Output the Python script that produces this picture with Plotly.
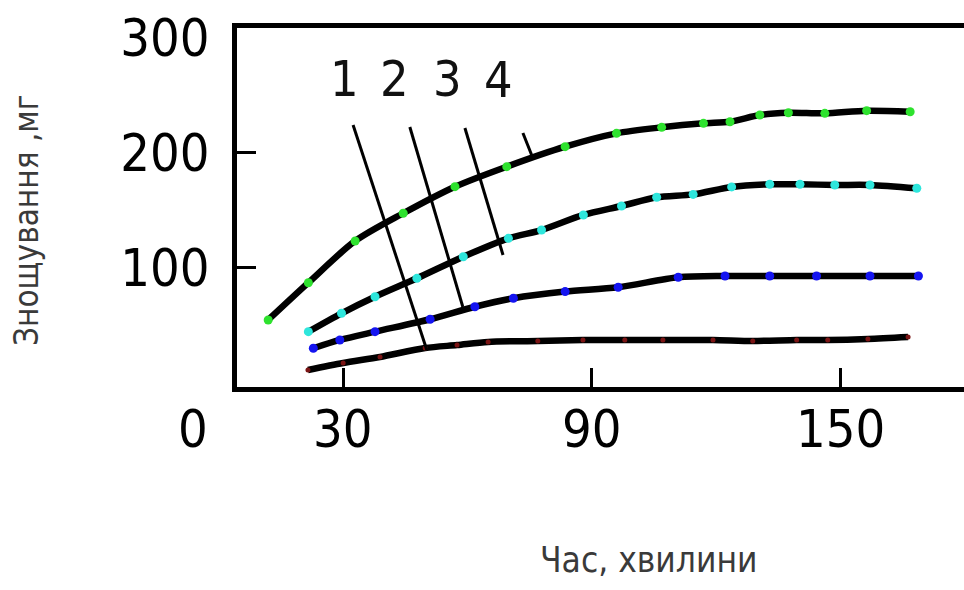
import plotly.graph_objects as go

# ---- data ----
t_green = [11.9, 21.6, 32.9, 44.5, 57.0, 69.5, 83.6, 96.0, 106.9, 117.0, 123.4, 130.6, 137.5, 146.3, 156.4, 166.9]
w_green = [54.8, 87.2, 123.5, 147.6, 170.7, 188.1, 205.5, 217.1, 222.3, 225.8, 227.2, 233.0, 235.0, 234.5, 236.8, 235.9]

t_cyan = [21.6, 29.6, 37.7, 47.8, 59.0, 69.9, 77.9, 88.0, 97.2, 105.7, 114.5, 123.8, 133.0, 140.3, 148.7, 157.2, 168.5]
w_cyan = [44.6, 60.6, 75.0, 91.0, 109.8, 125.8, 133.0, 146.1, 153.9, 161.5, 164.0, 170.5, 172.8, 172.8, 172.2, 172.2, 169.3]

t_blue = [22.8, 29.2, 37.7, 51.0, 61.8, 71.1, 83.6, 96.4, 110.9, 122.2, 133.0, 144.3, 157.2, 168.9]
w_blue = [30.2, 37.4, 44.6, 55.4, 66.3, 73.7, 79.5, 83.2, 91.9, 93.0, 93.0, 93.0, 93.0, 93.0]

t_red = [21.5, 30.0, 38.9, 49.8, 57.5, 65.0, 77.0, 87.9, 98.0, 107.2, 119.3, 128.9, 139.5, 147.0, 156.7, 166.4]
w_red = [11.3, 17.4, 22.6, 30.4, 33.0, 35.7, 36.5, 37.4, 37.4, 37.4, 37.4, 36.5, 37.4, 37.4, 38.3, 40.0]

x_ticks = [30, 90, 150]
x_ticktext = ["30", "90", "150"]
y_ticks = [100, 200, 300]
y_ticktext = ["100", "200", "300"]
y_tickmarks = [100, 200]

curve_labels = ["1", "2", "3", "4"]
label_x = [30.4, 42.5, 55.1, 67.6]
label_y = [264.0, 264.0, 264.0, 263.5]
leader_x0 = [32.4, 46.1, 59.4, 73.4]
leader_y0 = [224.3, 222.6, 221.7, 217.4]
leader_x1 = [50.2, 58.9, 68.6, 75.8]
leader_y1 = [28.7, 66.1, 111.3, 195.7]

x_title = "Час, хвилини"
y_title = "Знощування ,мг"
origin_label = "0"

FONT = "DejaVu Sans Condensed, Liberation Sans Narrow, Roboto Condensed, Roboto, sans-serif"
TICK_SIZE = 52

fig = go.Figure()

series = [
    (t_red, w_red, "#7a1414", 5),
    (t_blue, w_blue, "#1414f0", 9),
    (t_cyan, w_cyan, "#2ee6dc", 9),
    (t_green, w_green, "#2ee22e", 9),
]
for xs, ys, col, ms in series:
    fig.add_trace(go.Scatter(
        x=xs, y=ys, mode="lines+markers",
        line=dict(color="black", width=6.5, shape="spline", smoothing=0.8),
        marker=dict(color=col, size=ms, line=dict(width=0)),
        showlegend=False, hoverinfo="skip",
    ))

for i in range(len(curve_labels)):
    fig.add_shape(type="line", xref="x", yref="y",
                  x0=leader_x0[i], y0=leader_y0[i], x1=leader_x1[i], y1=leader_y1[i],
                  line=dict(color="black", width=3))
    fig.add_annotation(x=label_x[i], y=label_y[i], xref="x", yref="y",
                       text=curve_labels[i], showarrow=False,
                       xanchor="center", yanchor="middle",
                       font=dict(family=FONT, size=50, color="#111"))

# x tick labels placed under their tick positions
for v, txt in zip(x_ticks, x_ticktext):
    fig.add_annotation(x=v, y=0, xref="x", yref="paper", text=txt, showarrow=False,
                       xanchor="center", yanchor="middle", yshift=-42,
                       font=dict(family=FONT, size=TICK_SIZE, color="black"))

fig.add_annotation(x=(193 - 237) / 727, y=0, xref="paper", yref="paper",
                   text=origin_label, showarrow=False, xanchor="center", yanchor="middle",
                   yshift=-42, font=dict(family=FONT, size=TICK_SIZE, color="black"))
fig.add_annotation(x=(648 - 237) / 727, y=(387 - 560) / 359, xref="paper", yref="paper",
                   text=x_title, showarrow=False, xanchor="center", yanchor="middle",
                   font=dict(family=FONT, size=35, color="#3a3a3a"))
fig.add_annotation(x=(27 - 237) / 727, y=(387 - 220) / 359, xref="paper", yref="paper",
                   text=y_title, showarrow=False, textangle=-90,
                   xanchor="center", yanchor="middle",
                   font=dict(family=FONT, size=33, color="#3a3a3a"))

fig.update_xaxes(range=[4.37, 179.9], showline=True, linewidth=5, linecolor="black",
                 mirror=True, showgrid=False, zeroline=False,
                 tickmode="array", tickvals=x_ticks, ticktext=x_ticktext,
                 showticklabels=False,
                 ticks="inside", ticklen=19, tickwidth=3, tickcolor="black")
fig.update_yaxes(range=[-3.5, 308.7], showline=True, linewidth=5, linecolor="black",
                 mirror=False, showgrid=False, zeroline=False,
                 tickmode="array", tickvals=y_ticks, ticktext=y_ticktext,
                 ticks="", ticklabelstandoff=12,
                 minor=dict(tickmode="array", tickvals=y_tickmarks, ticks="inside",
                            ticklen=19, tickwidth=3, tickcolor="black", showgrid=False),
                 tickfont=dict(family=FONT, size=TICK_SIZE, color="black"))

fig.update_layout(width=964, height=590, margin=dict(l=237, r=0, t=28, b=203),
                  plot_bgcolor="white", paper_bgcolor="white")

fig.write_html("out.html", config={"displayModeBar": False})

# remove the default page margin so the figure sits at the window's top-left corner
with open("out.html", encoding="utf-8") as f:
    html = f.read()
html = html.replace("<head>", "<head><style>html,body{margin:0;padding:0;overflow:hidden}</style>", 1)
with open("out.html", "w", encoding="utf-8") as f:
    f.write(html)
